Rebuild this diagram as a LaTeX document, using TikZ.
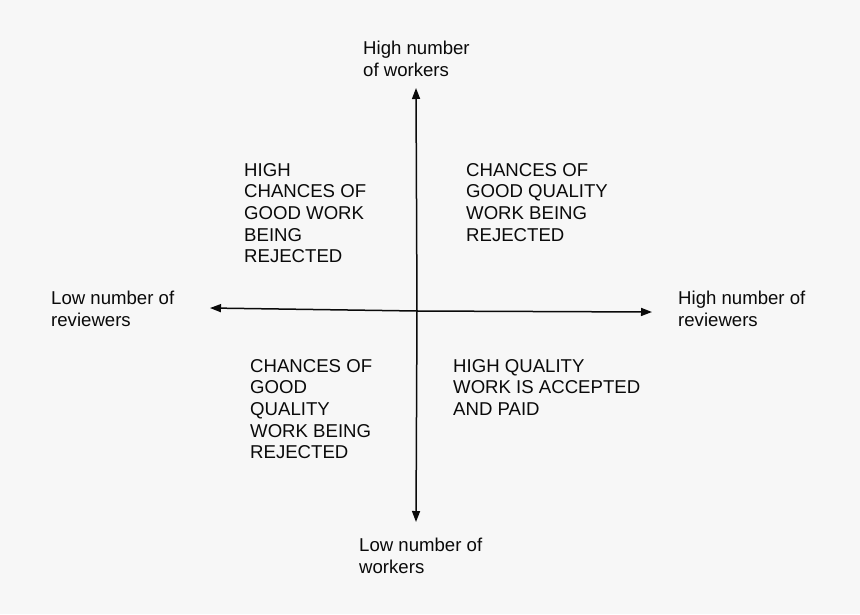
\documentclass[tikz,border=0pt]{standalone}
\usepackage{fontspec}
\setmainfont{Liberation Sans}
\usetikzlibrary{arrows.meta}
\definecolor{bgc}{HTML}{F7F7F7}
\definecolor{ink}{HTML}{0A0A0A}
\begin{document}
\begin{tikzpicture}[x=1pt,y=-1pt,
  axis/.style={line width=1.5pt,draw=ink,-{Triangle[length=11pt,width=8pt]}},
  lbl/.style={anchor=north west,inner sep=0pt,align=left,text=ink,
    font=\fontsize{18.6}{21.7}\selectfont}]
\fill[bgc] (0,0) rectangle (860,614);
\useasboundingbox (0,0) rectangle (860,614);
\coordinate (c) at (417,311);
\coordinate (top) at (416,88);
\coordinate (bot) at (416,522);
\coordinate (lft) at (210,308);
\coordinate (rgt) at (652,312);
\draw[axis] (c) -- (top);
\draw[axis] (c) -- (bot);
\draw[axis] (c) -- (lft);
\draw[axis] (c) -- (rgt);
\node[lbl] (tl) at (363,41) {High number\\of workers};
\node[lbl] (q1) at (244,163) {HIGH\\CHANCES OF\\GOOD WORK\\BEING\\REJECTED};
\node[lbl] (q2) at (466,163) {CHANCES OF\\GOOD QUALITY\\WORK BEING\\REJECTED};
\node[lbl] (ll) at (51,291) {Low number of\\reviewers};
\node[lbl] (rl) at (678,291) {High number of\\reviewers};
\node[lbl] (q3) at (250,359) {CHANCES OF\\GOOD\\QUALITY\\WORK BEING\\REJECTED};
\node[lbl] (q4) at (453,359) {HIGH QUALITY\\WORK IS ACCEPTED\\AND PAID};
\node[lbl] (bl) at (359,538) {Low number of\\workers};
\end{tikzpicture}
\end{document}
